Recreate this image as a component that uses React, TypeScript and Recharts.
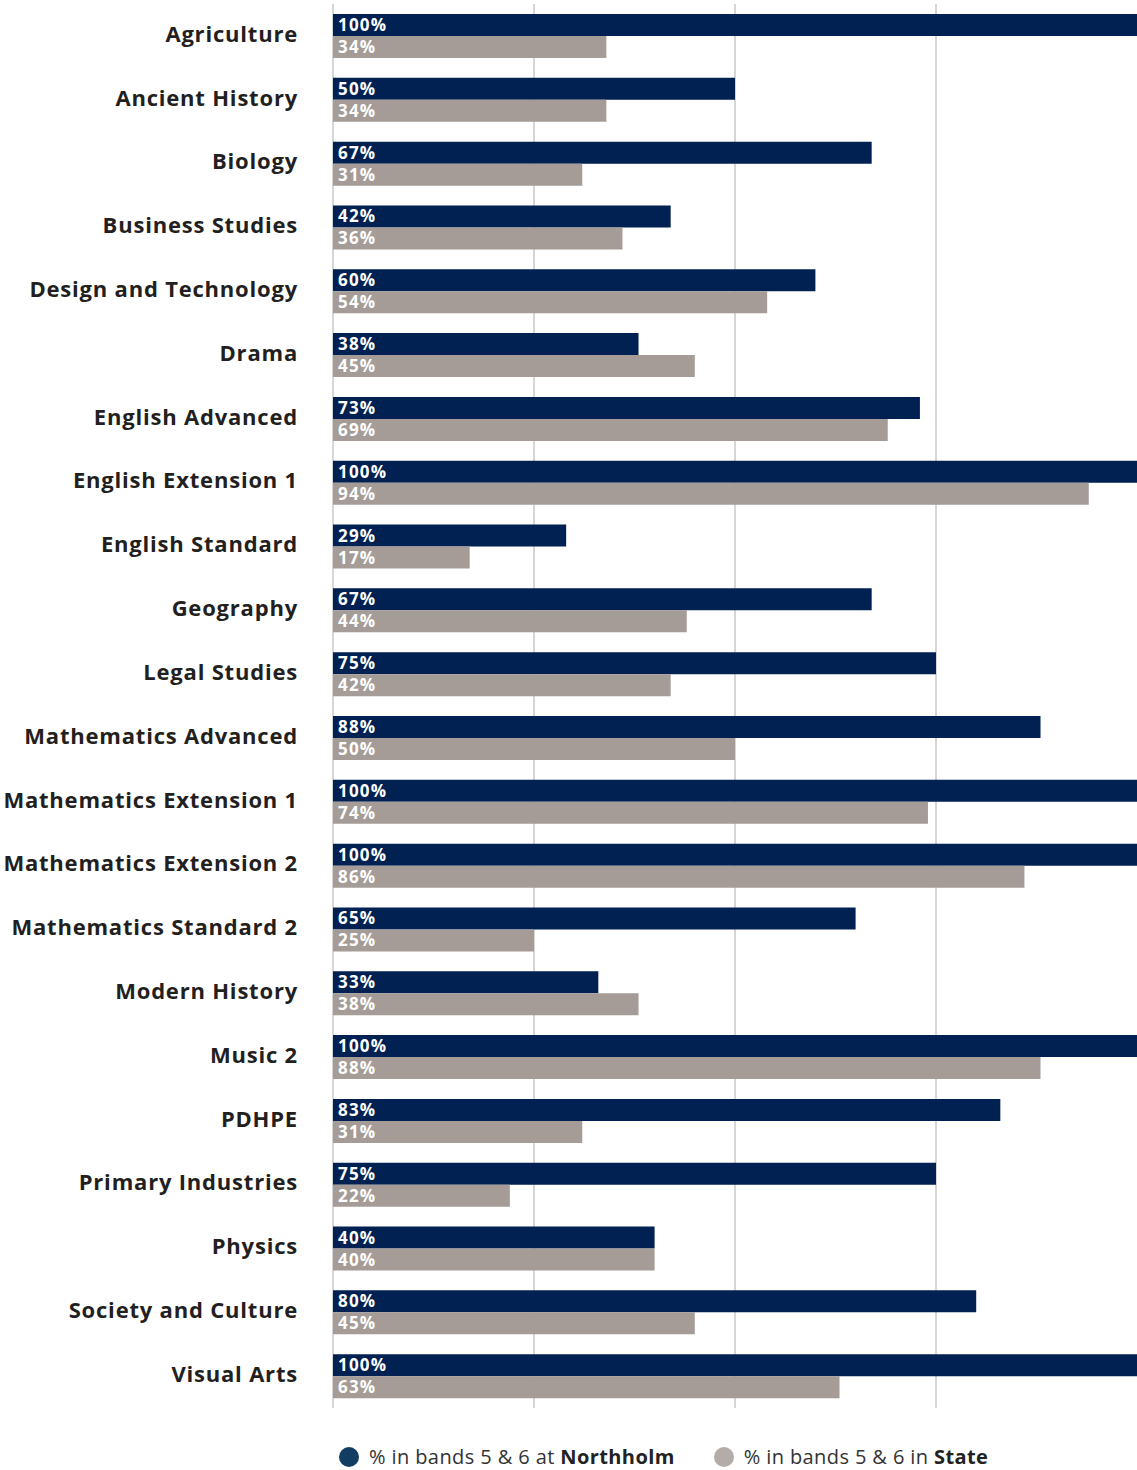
import { BarChart, Bar, XAxis, YAxis, CartesianGrid, Legend, LabelList } from "recharts";

const SUBJECTS = [
  "Agriculture", "Ancient History", "Biology", "Business Studies", "Design and Technology",
  "Drama", "English Advanced", "English Extension 1", "English Standard", "Geography",
  "Legal Studies", "Mathematics Advanced", "Mathematics Extension 1", "Mathematics Extension 2",
  "Mathematics Standard 2", "Modern History", "Music 2", "PDHPE", "Primary Industries",
  "Physics", "Society and Culture", "Visual Arts",
];
const NORTHHOLM = [100, 50, 67, 42, 60, 38, 73, 100, 29, 67, 75, 88, 100, 100, 65, 33, 100, 83, 75, 40, 80, 100];
const STATE = [34, 34, 31, 36, 54, 45, 69, 94, 17, 44, 42, 50, 74, 86, 25, 38, 88, 31, 22, 40, 45, 63];
// gridlines only; the 100% line is not drawn
const X_TICKS = [0, 25, 50, 75];

const NAVY = "#002152";
const GREY = "#a59c97";
const FONT = "'Open Sans', 'Noto Sans', sans-serif";

const data = SUBJECTS.map((subject, i) => ({
  subject,
  northholm: NORTHHOLM[i],
  state: STATE[i],
}));

const valueStyle = { fill: "#fff", fontSize: 17, fontWeight: 700, fontFamily: FONT, letterSpacing: 1.2 };

function LegendContent() {
  const item = (color: string, prefix: string, bold: string) => (
    <div style={{ display: "flex", alignItems: "center", marginRight: 39 }}>
      <span
        style={{ width: 20, height: 20, borderRadius: 10, background: color, display: "inline-block", marginRight: 10 }}
      />
      <span style={{ fontSize: 20, color: "#333", letterSpacing: 0.4 }}>
        {prefix}
        <b style={{ color: "#222" }}>{bold}</b>
      </span>
    </div>
  );
  return (
    <div style={{ display: "flex", height: 62, alignItems: "flex-end", paddingLeft: 339, fontFamily: FONT, boxSizing: "border-box" }}>
      {item("#123d62", "% in bands 5 & 6 at ", "Northholm")}
      {item("#b3aca8", "% in bands 5 & 6 in ", "State")}
    </div>
  );
}

export default function App() {
  return (
    <div style={{ position: "absolute", left: 0, top: 0, fontFamily: FONT }}>
      <BarChart
        width={1137}
        height={1470}
        data={data}
        layout="vertical"
        margin={{ top: 4, right: 0, bottom: 0, left: 0 }}
        barGap={0}
        barSize={22}
      >
        <CartesianGrid
          horizontal={false}
          stroke="#c8c8c8"
          strokeWidth={1.5}
          verticalCoordinatesGenerator={({ offset }: any) =>
            X_TICKS.map((t) => offset.left + (offset.width * t) / 100)
          }
        />
        <XAxis type="number" domain={[0, 100]} ticks={X_TICKS} hide />
        <YAxis
          type="category"
          dataKey="subject"
          width={333}
          axisLine={false}
          tickLine={false}
          tickSize={0}
          tickMargin={35}
          interval={0}
          tick={{ fontSize: 22, fontWeight: 700, fill: "#231f20", fontFamily: FONT, letterSpacing: 0.8, dy: -2 }}
        />
        <Legend verticalAlign="bottom" height={62} content={<LegendContent />} />
        <Bar dataKey="northholm" fill={NAVY} isAnimationActive={false}>
          <LabelList
            dataKey="northholm"
            position="insideLeft"
            offset={5}
            formatter={(v: unknown) => `${v}%`}
            style={valueStyle}
          />
        </Bar>
        <Bar dataKey="state" fill={GREY} isAnimationActive={false}>
          <LabelList
            dataKey="state"
            position="insideLeft"
            offset={5}
            formatter={(v: unknown) => `${v}%`}
            style={valueStyle}
          />
        </Bar>
      </BarChart>
    </div>
  );
}
